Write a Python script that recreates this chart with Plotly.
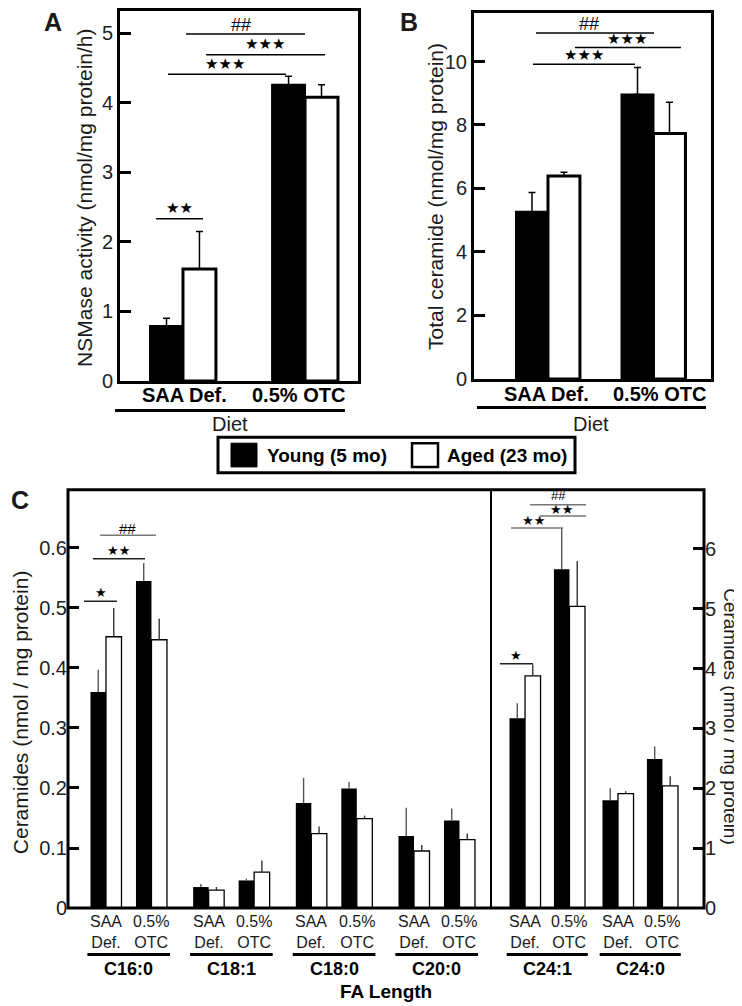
import plotly.graph_objects as go

W, H = 742, 1006


def fx(p):
    return p / W


def fy(p):
    return 1 - p / H


FONT = "Liberation Sans, Arial, Helvetica, sans-serif"
STAR = "DejaVu Sans, sans-serif"
TXT = "#1a1a1a"

# ---------------- data ----------------
diets = ["SAA Def.", "0.5% OTC"]

nsmase_young = [0.79, 4.26]
nsmase_young_err = [0.11, 0.12]
nsmase_aged = [1.61, 4.08]
nsmase_aged_err = [0.54, 0.18]

total_young = [5.27, 8.96]
total_young_err = [0.60, 0.85]
total_aged = [6.39, 7.73]
total_aged_err = [0.12, 0.99]

fa_left = ["C16:0", "C18:1", "C18:0", "C20:0"]
fa_right = ["C24:1", "C24:0"]
diet_short = ["SAA<br>Def.", "0.5%<br>OTC"]

# order: for each FA -> [SAA Def., 0.5% OTC]  (nmol / mg protein, left axis)
left_young = [0.360, 0.545, 0.035, 0.046, 0.175, 0.199, 0.120, 0.146]
left_young_err = [0.037, 0.030, 0.005, 0.003, 0.042, 0.011, 0.047, 0.020]
left_aged = [0.452, 0.447, 0.030, 0.060, 0.124, 0.149, 0.095, 0.114]
left_aged_err = [0.048, 0.035, 0.005, 0.019, 0.012, 0.005, 0.010, 0.010]

# right axis
right_young = [3.17, 5.66, 1.80, 2.49]
right_young_err = [0.25, 0.69, 0.20, 0.21]
right_aged = [3.88, 5.04, 1.91, 2.04]
right_aged_err = [0.19, 0.76, 0.04, 0.16]

# ---------------- layout constants ----------------
DL, DR = 0.443, 0.478          # diet offset inside an FA group
WA, WB = 0.27, 0.303           # bar widths panels A/B
WL, WR = 0.151, 0.167          # bar widths panel C

pos_left = [g + d * DL for g in range(len(fa_left)) for d in range(2)]
pos_right = [g + d * DR for g in range(len(fa_right)) for d in range(2)]


def bar(x, y, err, xa, ya, young, w, lw, cap, ecol, eth):
    return go.Bar(
        x=x, y=y, xaxis=xa, yaxis=ya,
        offset=-w if young else 0, width=w,
        marker=dict(color="black" if young else "white",
                    line=dict(color="black", width=lw)),
        error_y=dict(type="data", symmetric=False, array=err,
                     arrayminus=[0] * len(err), color=ecol,
                     thickness=eth, width=cap),
        showlegend=False, hoverinfo="skip",
    )


fig = go.Figure()
fig.add_trace(bar(diets, nsmase_young, nsmase_young_err, "x", "y", True, WA, 2, 3.5, "black", 1.5))
fig.add_trace(bar(diets, nsmase_aged, nsmase_aged_err, "x", "y", False, WA, 3, 3.5, "black", 1.5))
fig.add_trace(bar(diets, total_young, total_young_err, "x2", "y2", True, WB, 2, 3.5, "black", 1.5))
fig.add_trace(bar(diets, total_aged, total_aged_err, "x2", "y2", False, WB, 3, 3.5, "black", 1.5))
fig.add_trace(bar(pos_left, left_young, left_young_err, "x3", "y3", True, WL, 0, 0, "#555", 1.4))
fig.add_trace(bar(pos_left, left_aged, left_aged_err, "x3", "y3", False, WL, 1.3, 0, "#333", 1.4))
fig.add_trace(bar(pos_right, right_young, right_young_err, "x4", "y4", True, WR, 0, 0, "#555", 1.4))
fig.add_trace(bar(pos_right, right_aged, right_aged_err, "x4", "y4", False, WR, 1.3, 0, "#333", 1.4))

tickfont = dict(family=FONT, size=20, color="#222")
yax_common = dict(ticks="inside", ticklen=11, tickwidth=3, tickcolor="black",
                  showgrid=False, zeroline=False, tickfont=tickfont, fixedrange=True)

fig.update_layout(
    width=W, height=H, margin=dict(l=0, r=0, t=0, b=0),
    paper_bgcolor="white", plot_bgcolor="white",
    barmode="overlay", showlegend=False,
    font=dict(family=FONT, color=TXT),
    xaxis=dict(domain=[fx(112), fx(350)], anchor="y", type="category",
               range=[-0.516, 1.434], showline=True, linewidth=3, linecolor="black",
               mirror=True, ticks="", showgrid=False, showticklabels=False),
    yaxis=dict(domain=[fy(377), fy(3)], anchor="x", range=[0, 5.32],
               tickvals=[0, 1, 2, 3, 4, 5], showline=True, linewidth=3,
               linecolor="black", mirror=True, **yax_common),
    xaxis2=dict(domain=[fx(466), fx(703)], anchor="y2", type="category",
                range=[-0.701, 1.545], showline=True, linewidth=3, linecolor="black",
                mirror=True, ticks="", showgrid=False, showticklabels=False),
    yaxis2=dict(domain=[fy(375), fy(5)], anchor="x2", range=[0, 11.53],
                tickvals=[0, 2, 4, 6, 8, 10], showline=True, linewidth=3,
                linecolor="black", mirror=True, **yax_common),
    xaxis3=dict(domain=[fx(60), fx(483)], anchor="y3", range=[-0.37, 3.75],
                showticklabels=False, ticks="", showline=False, showgrid=False,
                zeroline=False),
    yaxis3=dict(domain=[fy(910), fy(487)], anchor="x3", range=[0, 0.697],
                tickvals=[0, 0.1, 0.2, 0.3, 0.4, 0.5, 0.6],
                ticktext=["0", "0.1", "0.2", "0.3", "0.4", "0.5", "0.6"],
                showline=False, **yax_common),
    xaxis4=dict(domain=[fx(483), fx(696)], anchor="y4", range=[-0.366, 1.925],
                showticklabels=False, ticks="", showline=False, showgrid=False,
                zeroline=False),
    yaxis4=dict(domain=[fy(910), fy(487)], anchor="x4", side="right", range=[0, 6.99],
                tickvals=[0, 1, 2, 3, 4, 5, 6], showline=False, **yax_common),
)

shapes = []
ann = []


def text(x, y, s, size=20, bold=False, angle=0, xref="paper", yref="paper",
         family=FONT, color=TXT, xanchor="center", yanchor="middle"):
    ann.append(dict(x=x, y=y, xref=xref, yref=yref, text=s, showarrow=False,
                    textangle=angle, xanchor=xanchor, yanchor=yanchor,
                    font=dict(family=family, size=size, color=color,
                              weight="bold" if bold else "normal")))


def hline(x0, x1, y, xref, yref, color="black", width=1.5):
    shapes.append(dict(type="line", x0=x0, x1=x1, y0=y, y1=y, xref=xref, yref=yref,
                       line=dict(color=color, width=width)))


def sig(xref, yref, x0, x1, y, label, tx, ty, size, color="black", lcolor="black",
        family=STAR):
    hline(x0, x1, y, xref, yref, lcolor, 1.5)
    text(tx, ty, label, size=size, xref=xref, yref=yref, family=family, color=color)


# panel labels
text(fx(45), fy(14), "A", size=25, bold=True)
text(fx(401), fy(14), "B", size=25, bold=True)
text(fx(12), fy(497), "C", size=25, bold=True)

# axis titles
text(fx(77), fy(192), "NSMase activity (nmol/mg protein/h)", size=21, angle=-90)
text(fx(428), fy(190), "Total ceramide (nmol/mg protein)", size=21, angle=-90)
text(fx(12), fy(712), "Ceramides (nmol / mg protein)", size=21, angle=-90)
text(fx(723), fy(716), "Ceramides (nmol / mg protein)", size=19, angle=90)

# diet category labels (A, B)
for xp, lab in zip((176, 290), diets):
    text(fx(xp), fy(391), lab, size=20, bold=True, color="black")
for xp, lab in zip((538, 651), diets):
    text(fx(xp), fy(390), lab, size=20, bold=True, color="black")

# Diet underlines / labels
hline(fx(107), fx(337), fy(407), "paper", "paper", width=3)
hline(fx(469), fx(698), fy(404), "paper", "paper", width=3)
text(fx(222), fy(421), "Diet", size=20)
text(fx(583), fy(421), "Diet", size=20)

# significance panel A
sig("x", "y", 0.025, 1.0, 4.99, "##", 0.475, 5.12, 18, family=FONT)
sig("x", "y", 0.19, 1.164, 4.69, "★★★", 0.67, 4.84, 15)
sig("x", "y", -0.123, 0.844, 4.41, "★★★", 0.344, 4.56, 15)
sig("x", "y", -0.22, 0.164, 2.33, "★★", -0.025, 2.48, 15)

# significance panel B
sig("x2", "y2", -0.114, 1.005, 10.9, "##", 0.39, 11.17, 18, family=FONT)
sig("x2", "y2", 0.256, 1.26, 10.44, "★★★", 0.75, 10.72, 15)
sig("x2", "y2", -0.142, 0.825, 9.91, "★★★", 0.34, 10.19, 15)

# significance panel C (left)
GRY = "#777"
sig("x3", "y3", -0.214, 0.107, 0.511, "★", -0.05, 0.525, 13, lcolor="#222")
sig("x3", "y3", -0.127, 0.38, 0.582, "★★", 0.117, 0.596, 13, lcolor="#222")
sig("x3", "y3", -0.058, 0.487, 0.621, "##", 0.214, 0.633, 15, lcolor=GRY, family=FONT)
# significance panel C (right)
sig("x4", "y4", -0.27, 0.086, 4.08, "★", -0.097, 4.22, 13, lcolor="#222")
sig("x4", "y4", -0.15, 0.41, 6.35, "★★", 0.086, 6.47, 13, lcolor=GRY)
sig("x4", "y4", 0.16, 0.656, 6.55, "★★", 0.387, 6.66, 13, lcolor=GRY)
sig("x4", "y4", 0.054, 0.656, 6.74, "##", 0.355, 6.89, 13, lcolor=GRY, family=FONT)

# panel C box and divider
shapes.append(dict(type="rect", xref="paper", yref="paper", x0=fx(60), x1=fx(696),
                   y0=fy(910), y1=fy(487), line=dict(color="black", width=3)))
shapes.append(dict(type="line", xref="paper", yref="paper", x0=fx(483), x1=fx(483),
                   y0=fy(910), y1=fy(487), line=dict(color="black", width=2)))

# panel C category labels, group underlines, group names
for xref, fas, pos, D, w in (("x3", fa_left, pos_left, DL, WL), ("x4", fa_right, pos_right, DR, WR)):
    for i, p in enumerate(pos):
        text(p, fy(934), diet_short[i % 2], size=16, xref=xref)
    for g, name in enumerate(fas):
        hline(g - w - 0.03, g + D + w + 0.03, fy(957), xref, "paper", width=3)
        text(g + D / 2, fy(972), name, size=18, bold=True, xref=xref, color="black")
text(fx(378), fy(994), "FA Length", size=19, bold=True, color="black")

# legend box
shapes.append(dict(type="rect", xref="paper", yref="paper", x0=fx(210), x1=fx(567),
                   y0=fy(470), y1=fy(434), line=dict(color="black", width=3)))
shapes.append(dict(type="rect", xref="paper", yref="paper", x0=fx(223), x1=fx(249),
                   y0=fy(464), y1=fy(440), fillcolor="black", line=dict(color="black", width=1)))
shapes.append(dict(type="rect", xref="paper", yref="paper", x0=fx(404), x1=fx(430),
                   y0=fy(464), y1=fy(440), fillcolor="white", line=dict(color="black", width=2.5)))
text(fx(257), fy(452), "Young (5 mo)", size=19, bold=True, xanchor="left", color="black")
text(fx(437), fy(452), "Aged (23 mo)", size=19, bold=True, xanchor="left", color="black")

fig.update_layout(shapes=shapes, annotations=ann)
fig.write_html("out.html")
